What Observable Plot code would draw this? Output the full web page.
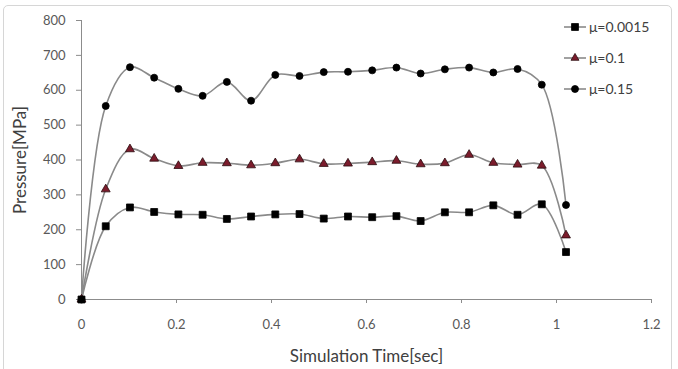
<!DOCTYPE html>
<html><head><meta charset="utf-8">
<script src="https://cdn.jsdelivr.net/npm/d3@7"></script>
<script src="https://cdn.jsdelivr.net/npm/@observablehq/plot@0.6"></script>
<style>
html,body{margin:0;padding:0;background:#fff;}
#wrap{position:relative;width:678px;height:369px;overflow:hidden;font-family:Lato,"Open Sans",sans-serif;}
#border{position:absolute;left:3px;top:5px;width:669px;height:372px;border:1px solid #d6d6d6;border-radius:5px;box-sizing:border-box;pointer-events:none;}
#chart{position:absolute;left:0;top:0;}
#legend{position:absolute;left:563px;top:11px;font-size:14px;color:#404040;}
.item{display:flex;align-items:center;height:31px;}
.item svg{margin-right:2px;}
</style></head><body>
<div id="wrap"><div id="chart"></div><div id="border"></div><div id="legend"></div></div>
<script>
const time   = [0, 0.051, 0.102, 0.153, 0.204, 0.255, 0.306, 0.357, 0.408, 0.459, 0.51, 0.561, 0.612, 0.663, 0.714, 0.765, 0.816, 0.867, 0.918, 0.969, 1.02];
const mu0015 = [0, 210, 264, 251, 244, 243, 231, 238, 244, 245, 232, 238, 236, 239, 225, 250, 250, 270, 243, 273, 136];
const mu01   = [0, 316, 431, 404, 383, 392, 391, 385, 391, 402, 389, 390, 394, 398, 388, 391, 415, 392, 387, 384, 184];
const mu015  = [0, 555, 666, 636, 604, 584, 624, 570, 644, 641, 652, 653, 657, 665, 648, 660, 665, 651, 661, 616, 271];
const seriesNames = ["μ=0.0015", "μ=0.1", "μ=0.15"];
const seriesValues = [mu0015, mu01, mu015];
const xTicks = [0, 0.2, 0.4, 0.6, 0.8, 1, 1.2];
const yTicks = [0, 100, 200, 300, 400, 500, 600, 700, 800];
const xTitle = "Simulation Time[sec]";
const yTitle = "Pressure[MPa]";

const styles = [
  {symbol: "square", r: 3.9, fill: "#000", stroke: "#000"},
  {symbol: "triangle", r: 3.3, fill: "#7b1c2c", stroke: "#2a0a0e"},
  {symbol: "circle", r: 3.5, fill: "#000", stroke: "#000"}
];
const lineColor = "#8a8a8a";
const axisColor = "#8c8c8c";

const data = seriesNames.map((name, i) => time.map((t, j) => ({t, p: seriesValues[i][j], name})));

const marks = [];
// draw lines first, then markers (circles, triangles, squares on top)
data.forEach(d => marks.push(Plot.line(d, {x: "t", y: "p", stroke: lineColor, strokeWidth: 1.6, curve: "catmull-rom"})));
[2, 1, 0].forEach(i => marks.push(Plot.dot(data[i], {x: "t", y: "p", symbol: () => styles[i].symbol, r: styles[i].r, fill: styles[i].fill, stroke: styles[i].stroke, strokeWidth: 0.8})));

const chart = Plot.plot({
  width: 678,
  height: 369,
  marginLeft: 81,
  marginRight: 27,
  marginTop: 20,
  marginBottom: 70,
  style: {fontFamily: "Lato, 'Open Sans', sans-serif", fontSize: "13px", color: "#595959", background: "transparent"},
  symbol: {type: "identity"},
  x: {domain: [0, 1.2]},
  y: {domain: [0, 800]},
  marks: [
    Plot.axisX({ticks: xTicks, tickFormat: d => String(d), tickSize: 4, tickPadding: 16, stroke: axisColor, fill: "#595959", fontSize: 13,
      label: xTitle, labelAnchor: "center", labelOffset: 62, labelArrow: "none"}),
    Plot.axisY({ticks: yTicks, tickFormat: d => String(d), tickSize: 5, tickPadding: 11, stroke: axisColor, fill: "#595959", fontSize: 13,
      label: null}),
    Plot.ruleX([0], {stroke: axisColor}),
    Plot.ruleY([0], {stroke: axisColor}),
    ...marks
  ]
});
document.getElementById("chart").appendChild(chart);

// axis titles as text elements
const svg = d3.select(chart);
svg.append("text")
  .attr("transform", "translate(20,160) rotate(-90)")
  .attr("text-anchor", "middle").attr("dy", "0.35em")
  .style("font-size", "17px").style("fill", "#404040")
  .text(yTitle);
svg.selectAll("[aria-label='x-axis label'] text, [aria-label='x-axis label']").style("font-size", "17px").style("fill", "#404040");

// legend
const legend = d3.select("#legend");
seriesNames.forEach((name, i) => {
  const item = legend.append("div").attr("class", "item");
  const s = item.append("svg").attr("width", 24).attr("height", 12);
  s.append("line").attr("x1", 1).attr("x2", 23).attr("y1", 6).attr("y2", 6).attr("stroke", lineColor).attr("stroke-width", 1.6);
  s.append("path").attr("transform", "translate(12,6)")
    .attr("d", d3.symbol(i === 0 ? d3.symbolSquare : i === 1 ? d3.symbolTriangle : d3.symbolCircle, Math.PI * styles[i].r * styles[i].r * (i === 1 ? 0.8 : 1))())
    .attr("fill", styles[i].fill).attr("stroke", styles[i].stroke).attr("stroke-width", 0.8);
  item.append("span").text(name);
});
</script>
</body></html>
